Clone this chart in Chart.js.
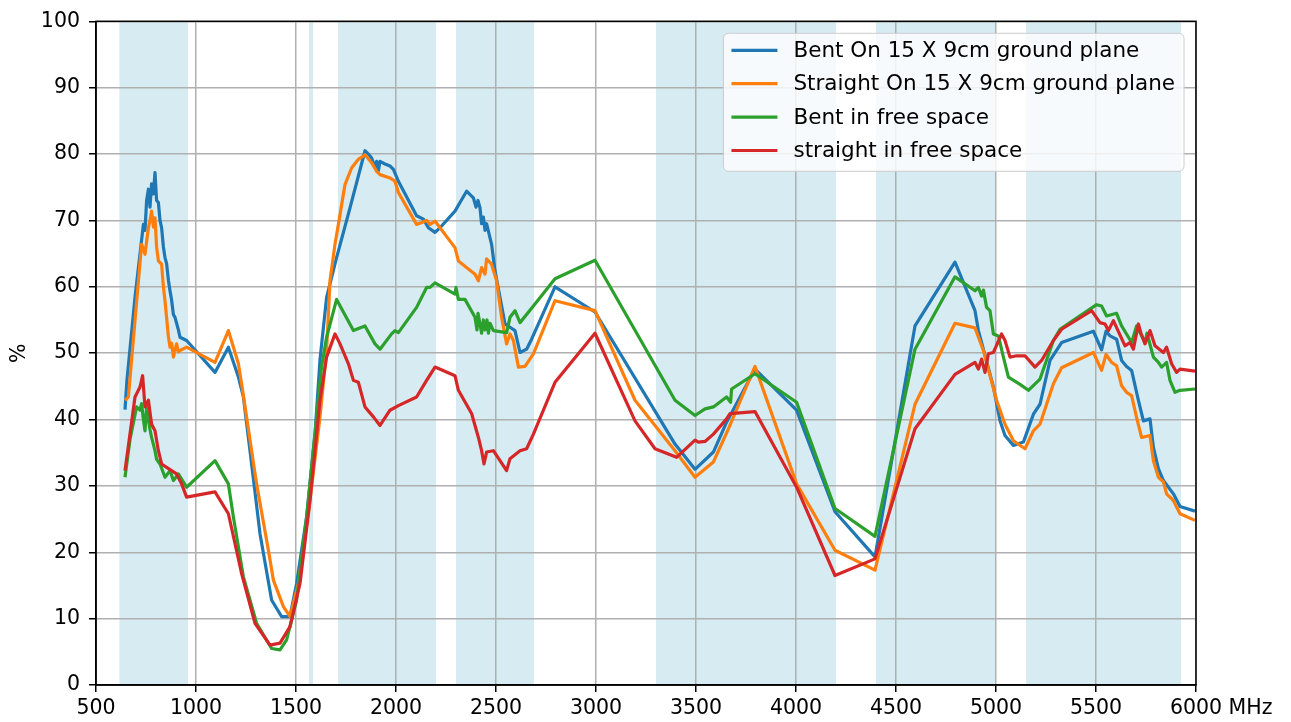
<!DOCTYPE html>
<html>
<head>
<meta charset="utf-8">
<script src="https://cdn.jsdelivr.net/npm/chart.js@4.4.0/dist/chart.umd.min.js"></script>
<style>
html,body{margin:0;padding:0;background:#ffffff;}
#wrap{width:1291px;height:722px;position:relative;}
</style>
</head>
<body>
<div id="wrap"><canvas id="c" width="1291" height="722"></canvas></div>
<script>
// ---- data (frequency MHz, efficiency %) ----
const seriesLabels = [
  'Bent On 15 X 9cm ground plane',
  'Straight On 15 X 9cm ground plane',
  'Bent in free space',
  'straight in free space'
];
const seriesColors = ['#1f77b4', '#ff7f0e', '#2ca02c', '#d62728'];

const bentGround = [[645,41.5],[655,46],[695,58.4],[703,60.5],[737,69.4],[745,68.5],[753,73],[762,74.7],[770,72],[778,75.5],[787,74],[795,77.2],[803,73],[812,72.7],[820,70],[828,68.9],[837,66],[845,64.4],[853,63.5],[862,61],[870,59.4],[878,58],[887,55.8],[895,55.4],[912,53.5],[920,52.4],[953,51.9],[1095,47.1],[1162,50.9],[1212,46.4],[1237,43.4],[1270,35.3],[1320,22.8],[1378,12.8],[1428,10.3],[1470,10.3],[1503,15.3],[1553,25.3],[1595,37.8],[1620,49],[1653,58.4],[1703,64.4],[1770,71.9],[1845,80.5],[1862,80],[1878,79.4],[1895,78],[1903,78.9],[1912,77.5],[1920,78.9],[1945,78.5],[1970,78.2],[1987,77.7],[2012,75.9],[2103,70.7],[2137,70.2],[2162,68.9],[2195,68.2],[2220,68.9],[2295,71.4],[2320,72.7],[2353,74.4],[2387,73.4],[2400,72],[2410,73],[2420,71.9],[2428,69.5],[2437,70.5],[2445,68.5],[2453,69.5],[2462,68.4],[2478,66.4],[2495,62.4],[2520,58.4],[2545,54.4],[2570,53.9],[2595,53.4],[2620,50.1],[2653,50.6],[2678,52.1],[2795,60.0],[2995,56.2],[3395,36.3],[3495,32.5],[3587,35.1],[3653,39.6],[3795,47.6],[4003,41.4],[4195,26.1],[4395,19.3],[4595,54.1],[4795,63.7],[4895,56.4],[4912,53.4],[4987,44.9],[5020,39.8],[5045,37.6],[5087,36.1],[5137,36.6],[5187,40.8],[5220,42.3],[5270,48.9],[5328,51.6],[5487,53.3],[5528,50.5],[5550,53.3],[5570,52.6],[5603,52.1],[5628,48.9],[5653,48.0],[5678,47.4],[5712,42.9],[5737,39.8],[5770,40.1],[5787,35.8],[5812,32.6],[5837,30.8],[5887,28.8],[5920,26.9],[5995,26.2]];

const straightGround = [[645,42.9],[662,43.4],[728,66.4],[745,64.9],[762,68.9],[770,70],[778,71.4],[787,69],[795,70.4],[803,66],[812,63.9],[828,63.4],[837,60],[845,57.9],[862,52.5],[870,50.9],[878,51.5],[887,49.4],[895,50.5],[903,51.4],[912,50.2],[920,50.4],[953,50.9],[1095,48.6],[1162,53.4],[1212,48.4],[1228,45.4],[1303,30.3],[1362,20.3],[1387,15.8],[1437,11.8],[1470,10.3],[1512,15.3],[1570,27.8],[1620,40.4],[1653,50.4],[1670,60.9],[1695,66.4],[1712,69.4],[1745,75.4],[1778,77.9],[1812,79.2],[1845,79.9],[1878,78.7],[1903,77.4],[1920,76.9],[1970,76.4],[1995,75.9],[2012,74.2],[2103,69.4],[2153,70.0],[2170,69.4],[2195,69.9],[2220,68.9],[2295,65.9],[2312,63.9],[2395,61.9],[2412,60.9],[2428,62.9],[2445,61.9],[2453,64.2],[2478,63.4],[2503,60.9],[2528,55.4],[2553,51.4],[2570,52.9],[2587,51.9],[2612,47.9],[2645,48.0],[2687,49.9],[2795,57.9],[2995,56.4],[3195,42.9],[3395,35.3],[3495,31.3],[3587,33.6],[3662,38.6],[3795,48.0],[4003,30.3],[4195,20.3],[4395,17.3],[4595,42.3],[4795,54.5],[4895,53.8],[4937,50.4],[5003,42.9],[5045,39.3],[5087,36.8],[5145,35.6],[5187,38.3],[5220,39.3],[5287,45.4],[5328,47.8],[5487,50.1],[5528,47.4],[5550,49.8],[5578,48.6],[5603,48.1],[5628,45.1],[5653,44.1],[5678,43.6],[5703,40.3],[5728,37.3],[5770,37.6],[5787,33.8],[5812,31.3],[5837,30.6],[5853,28.8],[5887,27.8],[5920,25.8],[5995,24.8]];

const bentFree = [[645,31.3],[670,37],[703,41.9],[720,41.4],[728,42.4],[737,40],[745,38.3],[753,41.9],[762,40],[770,38.5],[778,37.3],[795,35.3],[803,34],[820,33.3],[845,31.3],[870,32.3],[887,30.8],[912,31.8],[953,29.8],[1095,33.8],[1162,30.3],[1187,25.3],[1237,16.3],[1303,9.3],[1378,5.5],[1420,5.3],[1453,6.8],[1503,12.8],[1553,25.3],[1603,40.4],[1628,48],[1653,52.4],[1703,58.1],[1787,53.4],[1845,54.1],[1895,51.4],[1920,50.6],[1978,52.9],[1995,53.4],[2012,53.1],[2103,56.9],[2153,59.9],[2170,59.9],[2195,60.6],[2295,58.9],[2300,59.9],[2312,58.1],[2345,58.1],[2395,55.4],[2405,53.5],[2410,56],[2420,54.4],[2428,53],[2437,55],[2445,53.5],[2455,55],[2462,53],[2470,54.5],[2487,53.4],[2553,53.1],[2570,55.4],[2595,56.4],[2620,54.6],[2687,57.1],[2795,61.2],[2995,64.0],[3395,42.9],[3495,40.6],[3545,41.6],[3587,41.9],[3653,43.4],[3673,42.6],[3678,44.6],[3795,46.9],[4003,42.6],[4195,26.6],[4395,22.4],[4595,50.6],[4795,61.5],[4895,59.4],[4912,59.9],[4928,58.6],[4937,59.5],[4953,56.9],[4970,56.4],[4987,52.9],[5012,52.6],[5037,49.4],[5062,46.4],[5120,45.3],[5162,44.4],[5220,46.1],[5287,51.9],[5320,53.6],[5503,57.3],[5528,57.1],[5553,55.6],[5603,56.0],[5628,54.1],[5678,51.6],[5703,54.1],[5720,53.1],[5745,51.6],[5755,53],[5787,49.4],[5812,48.6],[5828,47.9],[5853,48.6],[5870,45.9],[5895,44.1],[5920,44.4],[5995,44.6]];

const straightFree = [[645,32.3],[695,43.4],[720,44.9],[733,46.6],[745,41.9],[762,42.9],[778,39.3],[795,38.3],[812,35.3],[828,33.3],[853,32.8],[878,32.3],[903,31.8],[928,30.3],[953,28.3],[1095,29.1],[1162,25.8],[1228,16.8],[1295,9.3],[1370,6.0],[1420,6.3],[1470,8.8],[1520,15.3],[1570,27.8],[1620,42.9],[1653,49.4],[1695,52.9],[1720,51.4],[1762,48.4],[1787,45.9],[1812,45.6],[1845,41.9],[1887,40.4],[1920,39.1],[1970,41.4],[2012,42.1],[2103,43.4],[2153,45.9],[2195,47.9],[2295,46.6],[2312,44.4],[2378,40.9],[2412,37.3],[2428,35.3],[2440,33.3],[2453,35.1],[2487,35.3],[2520,33.8],[2553,32.3],[2570,34.1],[2620,35.3],[2653,35.6],[2687,37.8],[2795,45.6],[2995,53.0],[3195,39.8],[3295,35.6],[3403,34.3],[3495,36.9],[3512,36.6],[3545,36.7],[3587,37.8],[3653,40.1],[3670,40.9],[3795,41.2],[4003,29.8],[4195,16.5],[4395,19.0],[4595,38.6],[4795,46.8],[4895,48.6],[4912,47.6],[4928,49.1],[4945,47.1],[4962,49.9],[4987,50.1],[5028,52.9],[5045,51.9],[5070,49.4],[5103,49.6],[5145,49.6],[5195,47.9],[5228,48.9],[5287,51.9],[5328,53.6],[5478,56.4],[5520,54.6],[5545,54.4],[5562,53.4],[5587,54.9],[5645,51.1],[5670,51.6],[5687,50.6],[5712,54.4],[5725,53],[5745,51.4],[5770,53.4],[5795,51.1],[5837,50.1],[5853,50.9],[5878,48.4],[5903,47.1],[5920,47.6],[5995,47.3]];

// shaded frequency bands (MHz)
const bandRanges = [[617,960],[1565,1585],[1710,2200],[2300,2690],[3300,4200],[4400,5000],[5150,5925]];

// axis ticks
const xTickValues = [500,1000,1500,2000,2500,3000,3500,4000,4500,5000,5500,6000];
const yTickValues = [0,10,20,30,40,50,60,70,80,90,100];
const xUnitLabel = 'MHz';
const yAxisTitle = '%';

// ---- chart ----
const FONT = "'DejaVu Sans', 'Liberation Sans', sans-serif";
const TICK_SIZE = 20.5;
const LEGEND_SIZE = 21.5;
Chart.defaults.font.family = FONT;
Chart.defaults.font.size = TICK_SIZE;
Chart.defaults.color = '#000000';

const allSeries = [bentGround, straightGround, bentFree, straightFree];

const bandPlugin = {
  id: 'bands',
  beforeDraw(chart) {
    const {ctx, chartArea: a, scales: {x}} = chart;
    ctx.save();
    ctx.fillStyle = 'rgba(173,216,230,0.5)';
    bandRanges.forEach(([f0, f1]) => {
      const p0 = x.getPixelForValue(f0), p1 = x.getPixelForValue(f1);
      ctx.fillRect(p0, a.top, p1 - p0, a.bottom - a.top);
    });
    ctx.restore();
  }
};

const framePlugin = {
  id: 'frame',
  afterDatasetsDraw(chart) {
    const {ctx, chartArea: a} = chart;
    ctx.save();
    ctx.strokeStyle = '#000000';
    ctx.lineWidth = 1.5;
    ctx.strokeRect(a.left, a.top, a.right - a.left, a.bottom - a.top);
    ctx.restore();
  }
};

function roundRectPath(ctx, x, y, w, h, r) {
  ctx.beginPath();
  ctx.moveTo(x + r, y);
  ctx.lineTo(x + w - r, y);
  ctx.arcTo(x + w, y, x + w, y + r, r);
  ctx.lineTo(x + w, y + h - r);
  ctx.arcTo(x + w, y + h, x + w - r, y + h, r);
  ctx.lineTo(x + r, y + h);
  ctx.arcTo(x, y + h, x, y + h - r, r);
  ctx.lineTo(x, y + r);
  ctx.arcTo(x, y, x + r, y, r);
  ctx.closePath();
}

const legendPlugin = {
  id: 'innerLegend',
  afterDraw(chart) {
    const {ctx, chartArea: a} = chart;
    ctx.save();
    ctx.font = LEGEND_SIZE + 'px ' + FONT;
    const labels = chart.data.datasets.map(d => d.label);
    const maxW = Math.max(...labels.map(t => ctx.measureText(t).width));
    const w = 70 + maxW + 9;
    const h = 138;
    const bx = a.right - 12 - w;
    const by = a.top + 12;
    roundRectPath(ctx, bx, by, w, h, 5);
    ctx.fillStyle = 'rgba(255,255,255,0.8)';
    ctx.fill();
    ctx.strokeStyle = '#cccccc';
    ctx.lineWidth = 1;
    ctx.stroke();
    ctx.textBaseline = 'middle';
    ctx.textAlign = 'left';
    chart.data.datasets.forEach((d, i) => {
      const cy = by + 17 + i * 33.4;
      ctx.strokeStyle = d.borderColor;
      ctx.lineWidth = 3.2;
      ctx.beginPath();
      ctx.moveTo(bx + 8, cy);
      ctx.lineTo(bx + 54, cy);
      ctx.stroke();
      ctx.fillStyle = '#000000';
      ctx.fillText(d.label, bx + 70, cy + 1);
    });
    // unit label after the last x tick
    ctx.font = TICK_SIZE + 'px ' + FONT;
    const xs = chart.scales.x;
    const lastTick = xTickValues[xTickValues.length - 1];
    const px = xs.getPixelForValue(lastTick);
    const tw = ctx.measureText(String(lastTick)).width;
    const sw = ctx.measureText(' ').width;
    ctx.fillStyle = '#000000';
    ctx.fillText(xUnitLabel, px + tw / 2 + sw, xs.top + 7 + 4 + TICK_SIZE * 0.6);
    ctx.restore();
  }
};

new Chart(document.getElementById('c'), {
  type: 'line',
  data: {
    datasets: allSeries.map((s, i) => ({
      label: seriesLabels[i],
      data: s.map(([f, v]) => ({x: f, y: v})),
      borderColor: seriesColors[i],
      backgroundColor: seriesColors[i],
      borderWidth: 3.2,
      pointRadius: 0,
      tension: 0,
      fill: false,
      borderJoinStyle: 'round',
      order: allSeries.length - i
    }))
  },
  options: {
    responsive: false,
    animation: false,
    devicePixelRatio: 1,
    layout: {padding: {top: 20, right: 95, bottom: 0, left: 0}},
    plugins: {legend: {display: false}, tooltip: {enabled: false}},
    scales: {
      x: {
        type: 'linear',
        min: 500,
        max: 6000,
        afterBuildTicks(scale) { scale.ticks = xTickValues.map(v => ({value: v})); },
        afterFit(scale) { scale.height = 37; },
        ticks: {padding: 4, maxRotation: 0, autoSkip: false, color: '#000', callback: v => String(v)},
        grid: {color: '#b0b0b0', lineWidth: 1.5, tickColor: '#000000', tickLength: 7, tickWidth: 1.5},
        border: {display: true, color: '#000000', width: 1.5}
      },
      y: {
        type: 'linear',
        min: 0,
        max: 100,
        afterBuildTicks(scale) { scale.ticks = yTickValues.map(v => ({value: v})); },
        afterFit(scale) { scale.width = 96; },
        ticks: {padding: 9, color: '#000', callback: v => String(v)},
        grid: {color: '#b0b0b0', lineWidth: 1.5, tickColor: '#000000', tickLength: 7, tickWidth: 1.5},
        border: {display: true, color: '#000000', width: 1.5},
        title: {display: true, text: yAxisTitle, padding: {top: 7, bottom: 0}, color: '#000'}
      }
    }
  },
  plugins: [bandPlugin, framePlugin, legendPlugin]
});
</script>
</body>
</html>
